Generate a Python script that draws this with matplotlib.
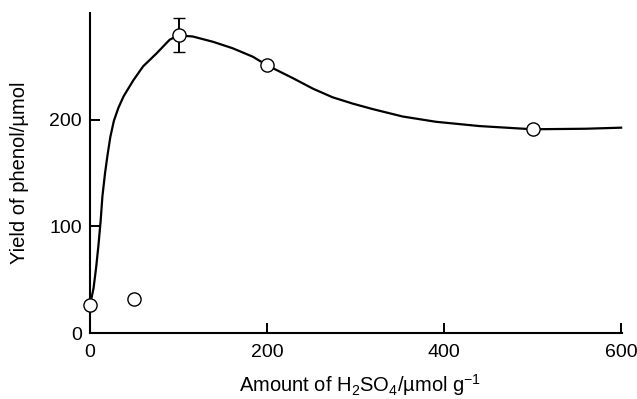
import numpy as np
import matplotlib
matplotlib.use("Agg")
import matplotlib.pyplot as plt

# === Data ===
# measured points (µmol H2SO4 per g, µmol phenol)
acid_amount = [0, 50, 100, 200, 500]
phenol_yield = [26, 32, 279, 251, 191]
yield_err = [0, 0, 16, 0, 0]

# hand-drawn trend curve, traced along its path
curve_x = [0, 4, 7, 9.5, 12, 14, 17, 20, 23, 27, 32, 38, 49, 60, 75, 90, 100, 116, 139, 161,
           184, 200, 229, 252, 274, 297, 319, 353, 391, 440, 500, 560, 600]
curve_y = [26, 42, 62, 82, 105, 128, 150, 168, 184, 199, 211, 222, 237, 250, 262, 275, 279, 278, 273, 267,
           259, 251, 239, 229, 221, 215, 210, 203, 198, 194, 191, 191.5, 192.5]

x_ticks = [0, 200, 400, 600]
y_ticks = [0, 100, 200]

# === Style ===
plt.rcParams['font.family'] = ['Liberation Sans', 'DejaVu Sans']
plt.rcParams['mathtext.fontset'] = 'custom'
plt.rcParams['mathtext.rm'] = 'Liberation Sans'
plt.rcParams['mathtext.it'] = 'Liberation Sans:italic'

fig = plt.figure(figsize=(6.37, 3.99), dpi=100)
ax = fig.add_axes([0.1413, 0.1654, 0.8352, 0.802])

ax.plot(curve_x, curve_y, color='black', lw=1.6, zorder=2, clip_on=False,
        solid_joinstyle='round')
ax.errorbar(acid_amount, phenol_yield, yerr=yield_err, fmt='o', ms=9.5,
            mfc='white', mec='black', mew=1.0, ecolor='black', elinewidth=1.4,
            capsize=4, capthick=1.4, zorder=3, clip_on=False)

ax.set_xlim(0, 601)
ax.set_ylim(0, 300)
ax.set_xticks(x_ticks)
ax.set_yticks(y_ticks)

for side in ['top', 'right']:
    ax.spines[side].set_visible(False)
for side in ['left', 'bottom']:
    ax.spines[side].set_linewidth(1.5)

ax.tick_params(direction='in', length=7, width=1.4, labelsize=14)
ax.tick_params(axis='x', pad=8)
ax.tick_params(axis='y', pad=6)

ax.set_xlabel(r'Amount of H$_2$SO$_4$/µmol g$^{-1}$', fontsize=14.5, va='top')
ax.set_ylabel('Yield of phenol/µmol', fontsize=14.5)
ax.xaxis.set_label_coords(0.5075, -0.122)
ax.yaxis.set_label_coords(-0.114, 0.5)

fig.savefig('out.png', dpi=100)
